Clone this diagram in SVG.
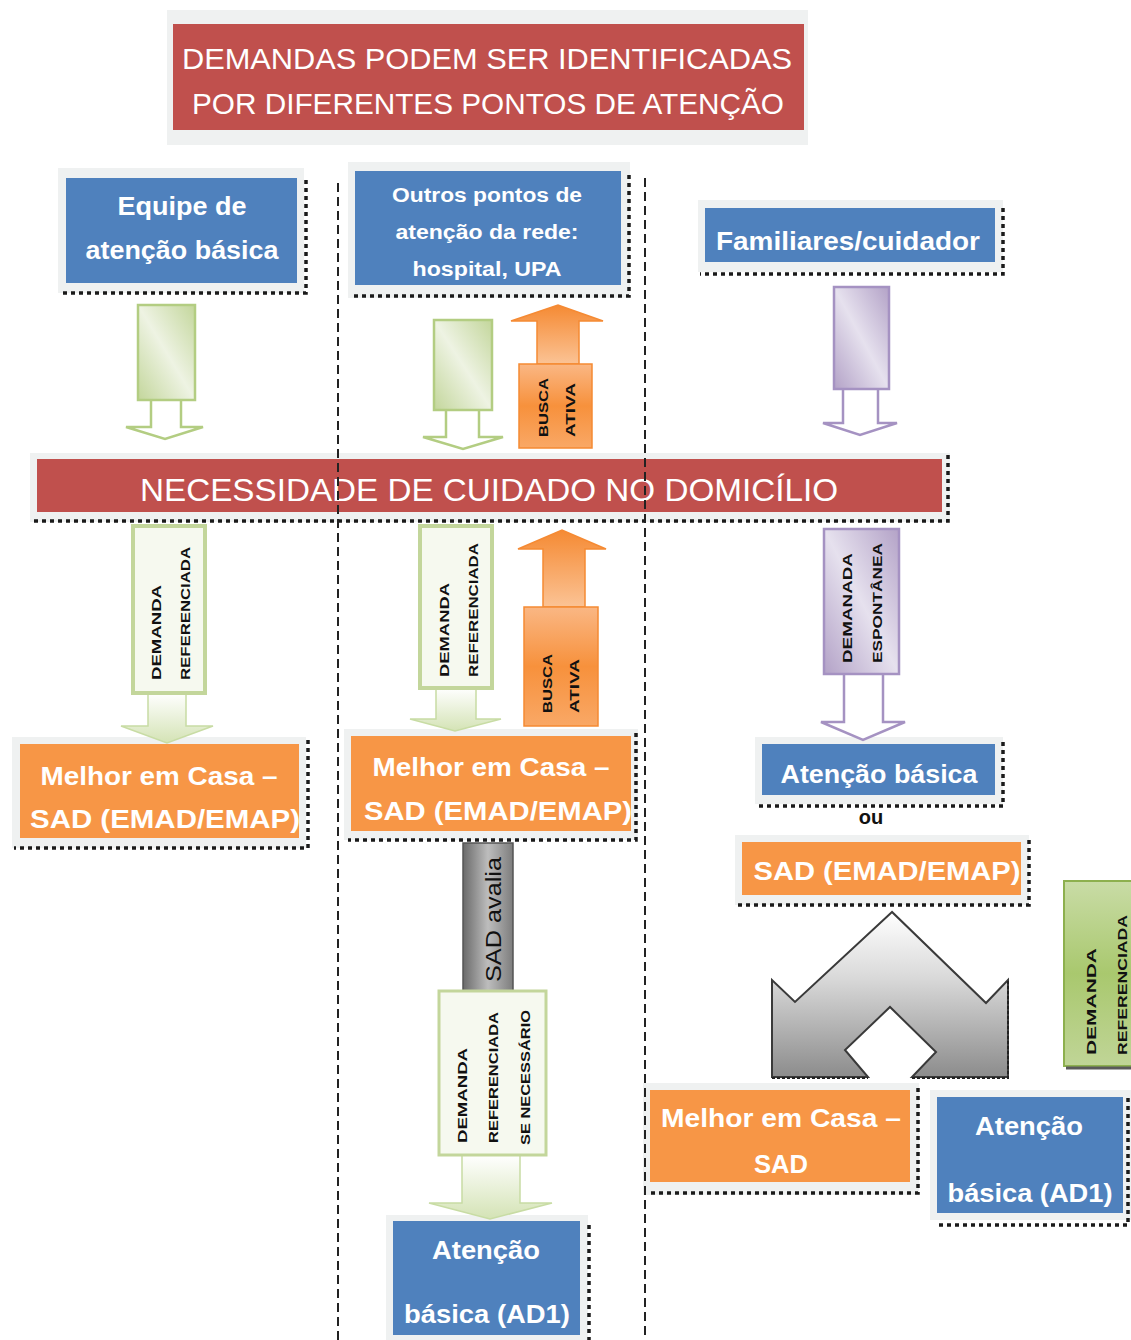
<svg xmlns="http://www.w3.org/2000/svg" width="1131" height="1340" viewBox="0 0 1131 1340">
<style>
.frame{fill:#eff1f1}
.red{fill:#c0504d}
.blue{fill:#4f81bd}
.orange{fill:#f79646}
.dots{fill:none;stroke:#1a1a1a;stroke-width:3.5;stroke-dasharray:4 4}
.vline{fill:none;stroke:#222;stroke-width:2;stroke-dasharray:9 5}
.wt{font-family:"Liberation Sans",Arial,sans-serif;fill:#ffffff;text-anchor:middle}
.wb{font-family:"Liberation Sans",Arial,sans-serif;fill:#ffffff;font-weight:bold;text-anchor:middle}
.lab{font-family:"Liberation Sans",Arial,sans-serif;fill:#111;font-weight:bold;font-size:13px}
.gstroke{stroke:#b3cd82;stroke-width:2.5}
.pstroke{stroke:#a592c2;stroke-width:2.5}
</style>
<defs>
<linearGradient id="gBody" x1="0" y1="1" x2="1" y2="0">
<stop offset="0" stop-color="#c3d69b"/><stop offset="0.5" stop-color="#eef3e3"/><stop offset="1" stop-color="#c3d69b"/>
</linearGradient>
<linearGradient id="gFill" x1="0" y1="0" x2="0" y2="1">
<stop offset="0" stop-color="#ffffff"/><stop offset="1" stop-color="#d4e3b5"/>
</linearGradient>
<linearGradient id="pBody" x1="0" y1="1" x2="1" y2="0">
<stop offset="0" stop-color="#b3a2c7"/><stop offset="0.5" stop-color="#e6e1ee"/><stop offset="1" stop-color="#b3a2c7"/>
</linearGradient>
<linearGradient id="oUp" x1="0" y1="0" x2="0" y2="1">
<stop offset="0" stop-color="#f58a33"/><stop offset="1" stop-color="#fbc395"/>
</linearGradient>
<linearGradient id="oBox" x1="0" y1="0" x2="0" y2="1">
<stop offset="0" stop-color="#fab784"/><stop offset="0.5" stop-color="#f7913c"/><stop offset="1" stop-color="#f9a866"/>
</linearGradient>
<linearGradient id="grayArr" x1="0" y1="0" x2="0" y2="1">
<stop offset="0" stop-color="#ffffff"/><stop offset="0.4" stop-color="#d9d9d9"/><stop offset="1" stop-color="#8c8c8c"/>
</linearGradient>
<linearGradient id="grayBar" x1="0" y1="0" x2="1" y2="0">
<stop offset="0" stop-color="#6a6a6a"/><stop offset="0.5" stop-color="#bdbdbd"/><stop offset="1" stop-color="#7d7d7d"/>
</linearGradient>
<linearGradient id="gDark" x1="0" y1="0" x2="0" y2="1">
<stop offset="0" stop-color="#c9dca6"/><stop offset="0.5" stop-color="#a9c86e"/><stop offset="1" stop-color="#c0d597"/>
</linearGradient>
</defs>

<g id="title">
<rect class="frame" x="167" y="10" width="641" height="135"/>
<rect class="red" x="173" y="24" width="631" height="106"/>
<text class="wt" x="487" y="69" font-size="30" textLength="610" lengthAdjust="spacingAndGlyphs">DEMANDAS PODEM SER IDENTIFICADAS</text>
<text class="wt" x="488" y="114" font-size="30" textLength="592" lengthAdjust="spacingAndGlyphs">POR DIFERENTES PONTOS DE ATENÇÃO</text>
</g>

<g id="node-equipe">
<rect class="frame" x="58" y="168" width="246" height="125"/>
<rect class="blue" x="66" y="178" width="231" height="105"/>
<path class="dots" d="M306,180 V293 H60"/>
<text class="wb" x="182" y="215" font-size="25" textLength="129" lengthAdjust="spacingAndGlyphs">Equipe de</text>
<text class="wb" x="182" y="259" font-size="25" textLength="193" lengthAdjust="spacingAndGlyphs">atenção básica</text>
</g>

<g id="node-outros">
<rect class="frame" x="348" y="162" width="282" height="136"/>
<rect class="blue" x="355" y="171" width="266" height="114"/>
<path class="dots" d="M629,175 V296 H352"/>
<text class="wb" x="487" y="202" font-size="20" textLength="190" lengthAdjust="spacingAndGlyphs">Outros pontos de</text>
<text class="wb" x="487" y="239" font-size="20" textLength="183" lengthAdjust="spacingAndGlyphs">atenção da rede:</text>
<text class="wb" x="487" y="276" font-size="20" textLength="149" lengthAdjust="spacingAndGlyphs">hospital, UPA</text>
</g>

<g id="node-familiares">
<rect class="frame" x="698" y="200" width="305" height="72"/>
<rect class="blue" x="705" y="208" width="290" height="54"/>
<path class="dots" d="M1003,208 V274 H700"/>
<text class="wb" x="848" y="250" font-size="26" textLength="264" lengthAdjust="spacingAndGlyphs">Familiares/cuidador</text>
</g>

<g id="node-necessidade">
<rect class="frame" x="30" y="453" width="920" height="69"/>
<rect class="red" x="37" y="459" width="905" height="53"/>
<path class="dots" d="M948,455 V521 H34" stroke-dasharray="6 3"/>
<text class="wt" x="489" y="501" font-size="31" textLength="698" lengthAdjust="spacingAndGlyphs">NECESSIDADE DE CUIDADO NO DOMICÍLIO</text>
</g>

<g id="node-melhor-left">
<rect class="frame" x="12" y="737" width="294" height="111"/>
<rect class="orange" x="20" y="744" width="279" height="94"/>
<path class="dots" d="M308,740 V848 H14" stroke-dasharray="6 3"/>
<text class="wb" x="159" y="785" font-size="25" textLength="237" lengthAdjust="spacingAndGlyphs">Melhor em Casa –</text>
<text class="wb" x="165" y="828" font-size="25" textLength="270" lengthAdjust="spacingAndGlyphs">SAD (EMAD/EMAP)</text>
</g>

<g id="node-melhor-mid">
<rect class="frame" x="344" y="729" width="294" height="111"/>
<rect class="orange" x="351" y="736" width="280" height="95"/>
<path class="dots" d="M636,733 V840 H348"/>
<text class="wb" x="491" y="776" font-size="25" textLength="237" lengthAdjust="spacingAndGlyphs">Melhor em Casa –</text>
<text class="wb" x="498" y="820" font-size="25" textLength="268" lengthAdjust="spacingAndGlyphs">SAD (EMAD/EMAP)</text>
</g>

<g id="node-atencao-basica">
<rect class="frame" x="755" y="737" width="248" height="67"/>
<rect class="blue" x="762" y="744" width="233" height="51"/>
<path class="dots" d="M1003,742 V806 H758"/>
<text class="wb" x="879" y="783" font-size="25" textLength="197" lengthAdjust="spacingAndGlyphs">Atenção básica</text>
</g>

<g id="label-ou">
<text x="871" y="824" font-family="Liberation Sans, Arial, sans-serif" font-weight="bold" font-size="20" fill="#111" text-anchor="middle">ou</text>
</g>

<g id="node-sad-right">
<rect class="frame" x="735" y="835" width="294" height="70"/>
<rect class="orange" x="742" y="842" width="279" height="53"/>
<path class="dots" d="M1029,840 V905 H737" stroke-dasharray="6 3"/>
<text class="wb" x="887" y="880" font-size="25" textLength="267" lengthAdjust="spacingAndGlyphs">SAD (EMAD/EMAP)</text>
</g>

<g id="node-melhor-sad">
<rect class="frame" x="643" y="1083" width="276" height="112"/>
<rect class="orange" x="650" y="1090" width="260" height="92"/>
<path class="dots" d="M918,1088 V1193 H648"/>
<text class="wb" x="781" y="1127" font-size="25" textLength="240" lengthAdjust="spacingAndGlyphs">Melhor em Casa –</text>
<text class="wb" x="781" y="1173" font-size="25" textLength="54" lengthAdjust="spacingAndGlyphs">SAD</text>
</g>

<g id="node-ad1-right">
<rect class="frame" x="930" y="1090" width="201" height="130"/>
<rect class="blue" x="937" y="1097" width="186" height="116"/>
<path class="dots" d="M1128,1098 V1225 H935"/>
<text class="wb" x="1029" y="1135" font-size="25" textLength="108" lengthAdjust="spacingAndGlyphs">Atenção</text>
<text class="wb" x="1030" y="1202" font-size="25" textLength="165" lengthAdjust="spacingAndGlyphs">básica (AD1)</text>
</g>

<g id="node-ad1-bottom">
<rect class="frame" x="386" y="1215" width="202" height="125"/>
<rect class="blue" x="393" y="1221" width="187" height="114"/>
<path class="dots" d="M589,1225 V1340"/>
<text class="wb" x="486" y="1259" font-size="25" textLength="108" lengthAdjust="spacingAndGlyphs">Atenção</text>
<text class="wb" x="487" y="1323" font-size="25" textLength="166" lengthAdjust="spacingAndGlyphs">básica (AD1)</text>
</g>

<g id="connectors">
<path d="M151,400 V427 H126 L165,439 L203,427 H181 V400" fill="#ffffff" class="gstroke"/>
<rect x="138" y="305" width="57" height="95" fill="url(#gBody)" class="gstroke"/>
<path d="M446,410 V437 H423 L463,449 L503,437 H479 V410" fill="#ffffff" class="gstroke"/>
<rect x="434" y="320" width="58" height="90" fill="url(#gBody)" class="gstroke"/>
<path d="M537,364 V321 H511 L558,305 L603,321 H579 V364 Z" fill="url(#oUp)" stroke="#f58a33" stroke-width="1.5"/>
<rect x="519" y="364" width="73" height="84" fill="url(#oBox)" stroke="#f58a33" stroke-width="1.5"/>
<text class="lab" transform="translate(548,437) rotate(-90)" textLength="59" lengthAdjust="spacingAndGlyphs">BUSCA</text>
<text class="lab" transform="translate(575,437) rotate(-90)" textLength="54" lengthAdjust="spacingAndGlyphs">ATIVA</text>
<path d="M843,389 V423 H823 L860,435 L897,423 H878 V389" fill="#ffffff" class="pstroke"/>
<rect x="834" y="287" width="55" height="102" fill="url(#pBody)" class="pstroke"/>

<path d="M148,693 V726 H121 L167,743 L213,726 H186 V693 Z" fill="url(#gFill)" stroke="#c8dca4" stroke-width="1.5"/>
<rect x="133" y="526" width="72" height="167" fill="#f6f9ef" stroke="#c3d69b" stroke-width="4"/>
<text class="lab" transform="translate(161,680) rotate(-90)" textLength="95" lengthAdjust="spacingAndGlyphs">DEMANDA</text>
<text class="lab" transform="translate(190,680) rotate(-90)" textLength="133" lengthAdjust="spacingAndGlyphs">REFERENCIADA</text>
<path d="M436,688 V719 H410 L455,731 L501,719 H476 V688 Z" fill="url(#gFill)" stroke="#c8dca4" stroke-width="1.5"/>
<rect x="420" y="526" width="72" height="162" fill="#f6f9ef" stroke="#c3d69b" stroke-width="4"/>
<text class="lab" transform="translate(449,677) rotate(-90)" textLength="94" lengthAdjust="spacingAndGlyphs">DEMANDA</text>
<text class="lab" transform="translate(478,677) rotate(-90)" textLength="134" lengthAdjust="spacingAndGlyphs">REFERENCIADA</text>
<path d="M543,607 V549 H518 L562,530 L606,549 H585 V607 Z" fill="url(#oUp)" stroke="#f58a33" stroke-width="1.5"/>
<rect x="524" y="607" width="74" height="119" fill="url(#oBox)" stroke="#f58a33" stroke-width="1.5"/>
<text class="lab" transform="translate(552,713) rotate(-90)" textLength="59" lengthAdjust="spacingAndGlyphs">BUSCA</text>
<text class="lab" transform="translate(579,713) rotate(-90)" textLength="54" lengthAdjust="spacingAndGlyphs">ATIVA</text>
<path d="M844,674 V722 H821 L863,740 L905,722 H883 V674" fill="#ffffff" class="pstroke"/>
<rect x="824" y="529" width="75" height="145" fill="url(#pBody)" class="pstroke"/>
<text class="lab" transform="translate(852,663) rotate(-90)" textLength="110" lengthAdjust="spacingAndGlyphs">DEMANADA</text>
<text class="lab" transform="translate(882,663) rotate(-90)" textLength="120" lengthAdjust="spacingAndGlyphs">ESPONTÂNEA</text>

<rect x="463" y="843" width="50" height="148" fill="url(#grayBar)" stroke="#555" stroke-width="1.5"/>
<text transform="translate(501,982) rotate(-90)" font-family="Liberation Sans, Arial, sans-serif" font-size="22" fill="#111" textLength="125" lengthAdjust="spacingAndGlyphs">SAD avalia</text>
<path d="M462,1155 V1203 H429 L490,1219 L552,1203 H520 V1155 Z" fill="url(#gFill)" stroke="#c8dca4" stroke-width="1.5"/>
<rect x="439" y="991" width="107" height="164" fill="#f6f9ef" stroke="#c3d69b" stroke-width="3"/>
<text class="lab" transform="translate(467,1143) rotate(-90)" textLength="95" lengthAdjust="spacingAndGlyphs">DEMANDA</text>
<text class="lab" transform="translate(498,1143) rotate(-90)" textLength="131" lengthAdjust="spacingAndGlyphs">REFERENCIADA</text>
<text class="lab" transform="translate(530,1145) rotate(-90)" textLength="135" lengthAdjust="spacingAndGlyphs">SE NECESSÁRIO</text>

<path d="M892,912 L795,1002 L772,980 V1077 H868 L845,1050 L890,1007 L936,1052 L912,1077 H1008 V980 L986,1003 Z" fill="url(#grayArr)" stroke="#3a3a3a" stroke-width="2"/>
<path d="M772,1078 H868 M912,1078 H1008 V980" fill="none" stroke="#222" stroke-width="2" stroke-dasharray="3 2"/>

<rect x="1064" y="881" width="70" height="185" fill="url(#gDark)" stroke="#8db04e" stroke-width="2"/>
<line x1="1066" y1="1068" x2="1131" y2="1068" stroke="#5a5a5a" stroke-width="3"/>
<text class="lab" transform="translate(1096,1055) rotate(-90)" textLength="107" lengthAdjust="spacingAndGlyphs">DEMANDA</text>
<text class="lab" transform="translate(1127,1055) rotate(-90)" textLength="140" lengthAdjust="spacingAndGlyphs">REFERENCIADA</text>
</g>

<g id="separators">
<line class="vline" x1="338" y1="183" x2="338" y2="1340"/>
<line class="vline" x1="645" y1="178" x2="645" y2="1340"/>
</g>
</svg>
